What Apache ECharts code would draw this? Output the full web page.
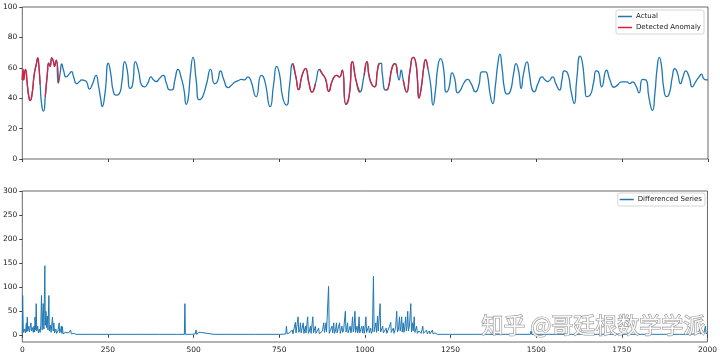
<!DOCTYPE html>
<html><head><meta charset="utf-8">
<script src="https://cdn.jsdelivr.net/npm/echarts@6/dist/echarts.min.js"></script>
<style>html,body{margin:0;padding:0;background:#fff}#c{width:720px;height:357px}</style>
</head><body><div id="c"></div>
<script>
// Top panel: actual series read at key points [x, value]
const actualSeries = [[0,52],[2,59],[4,52],[9,59],[15,48],[19,41],[23,38.5],[28,42],[35,56],[41,62.5],[45,66.5],[48,62],[52,49],[57,35],[62,31.5],[67,41],[73,56],[77,63],[81,61],[86,66.5],[91,64],[94,61],[99,65],[105,50],[110,56],[115,62.5],[120,58.5],[128,54],[137,56],[144,57.5],[149,54.5],[159,49.5],[167,51],[173,52],[183,51.5],[188,50.5],[196,46],[205,49.5],[215,55],[222,48.5],[229,39],[233,34.5],[241,43],[251,63],[258,56],[265,45],[273,42],[283,43],[290,50],[299,64],[306,58.5],[314,46.5],[321,48.5],[330,64],[339,58],[348,48.5],[357,47.5],[366,50],[375,54],[383,52],[391,51],[400,53],[411,55],[420,50],[430,45.5],[437,45.5],[445,52],[454,59],[464,53],[472,45],[478,36],[484,40],[490,55],[498,66.8],[507,52],[515,39],[521,39.5],[527,41.5],[538,50],[549,59],[561,49.5],[569,51],[578,58],[588,52],[600,47],[610,48.5],[619,50.5],[630,51.5],[639,52.4],[648,52],[658,54],[666,52],[682,41],[697,55],[706,52.4],[723,34.5],[733,49],[742,61],[750,56],[760,40],[771,35.5],[779,47.5],[789,62.8],[798,54],[806,45.7],[816,55],[826,59.5],[836,50],[845,44],[855,49.6],[867,59],[875,56],[884,53],[894,44.5],[905,52],[917,55],[925,54],[933,58.5],[944,36],[953,41],[963,64],[973,52],[984,44],[997,55],[1005,64],[1012,54],[1021,48.5],[1028,47.5],[1036,58.5],[1041,62.8],[1047,63],[1050,56],[1060,45.3],[1067,46.5],[1079,60.5],[1087,62.8],[1094,56],[1099,52],[1105,58.5],[1111,52],[1121,44],[1131,58.5],[1140,66.8],[1147,64],[1152,54],[1157,40],[1164,47.5],[1171,60.5],[1176,65.4],[1183,59.5],[1191,49],[1198,35.5],[1205,45],[1212,60.5],[1220,66],[1228,60.5],[1237,44],[1244,46.5],[1254,56.7],[1261,53],[1270,43.5],[1278,45.3],[1288,50],[1299,52.4],[1309,49.6],[1322,44.2],[1331,48],[1341,57.3],[1351,57.3],[1356,56],[1365,42],[1372,36.5],[1380,48.6],[1387,62.8],[1393,68.9],[1399,60.6],[1407,45.3],[1414,42.7],[1423,44.2],[1433,56.2],[1440,62.8],[1448,57.3],[1455,46.4],[1462,56.2],[1472,63.9],[1479,56.2],[1486,46.4],[1493,44.2],[1504,49.6],[1516,54],[1525,52],[1533,51],[1547,54],[1556,49.6],[1567,45.3],[1574,52],[1581,58],[1591,56.2],[1601,44.2],[1610,36.5],[1617,52],[1627,67.7],[1634,62.8],[1641,47.5],[1646,41],[1656,42],[1666,50],[1674,58],[1680,57.5],[1690,47.5],[1704,58.4],[1714,52],[1726,47.2],[1736,48.6],[1748,50.8],[1763,50.8],[1772,49.6],[1780,50.8],[1790,48],[1799,43.5],[1809,52.4],[1819,52],[1828,40],[1838,32],[1845,43],[1852,60.6],[1858,66.8],[1864,61.7],[1871,46.4],[1879,41],[1887,43],[1896,54],[1903,59.5],[1910,57.3],[1920,49.6],[1927,54],[1935,58],[1945,54],[1954,47.5],[1964,50.8],[1974,54],[1981,55.8],[1987,53],[1995,52],[2000,52]];

// x-ranges flagged as anomalies
const anomalyRanges = [[0,56],[64,105],[786,856],[862,984],[997,1041],[1056,1094],[1110,1186]];

// Bottom panel: differenced series [x, value]
const differencedSeries = [[0,2],[1,82],[3,5],[6,12],[9,4],[12,25],[13,6],[14.5,37],[16,8],[19,18],[21,6],[25,25],[27,8],[30,15],[32,5],[34,18],[36,6],[37,37],[39,10],[40.6,65],[42,8],[45,18],[47,4],[50,12],[52,5],[54,20],[56,82],[58,10],[61,65],[63,12],[65.8,144],[67,20],[69,49],[71,15],[73,39],[75,10],[77.5,82],[79,8],[82,20],[84,5],[88,37],[90,8],[92,25],[94,4],[98,12],[100,3],[104,8],[107.5,25],[109,4],[112,10],[114,18],[115.5,3],[117,17],[119,2],[125,5],[128,2],[135,4],[138,2],[141,10],[143,2],[150,3],[152,1],[157,1],[158,4],[160,1],[200,1],[250,1],[299,1],[300,4],[301,1],[350,1],[400,1],[450,1],[473,1],[474.6,65],[476,1],[494,1],[495,4],[497,1],[505,2],[507,10],[509,1],[515,5],[518,2],[521,5],[523,1],[560,1],[600,1],[650,1],[680,1],[681,4],[683,1],[720,1],[758,1],[759,4],[761,1],[769,2],[771,18],[773,2],[780,4],[785,2],[788,10],[790,2],[794,6],[797,26],[799,4],[802,8],[805,37.5],[807,5],[810,10],[812,25],[814,4],[818,8],[820,25],[822,3],[824,6],[826.5,18],[828,4],[831,6],[833,37.5],[835,3],[838,8],[841,18],[843,3],[846,6],[848,37.5],[850,4],[853,8],[855.5,18],[857,3],[862,6],[865,14],[867,2],[872,5],[876,8],[880,25],[882,5],[884,12],[886.5,25],[888,6],[891,4],[894,101],[896,3],[900,6],[904,18],[906,4],[909,25],[911,3],[914,8],[917,25],[919,4],[922,6],[926,25],[928,3],[930,8],[933,18],[935,5],[938,10],[943,49],[945,6],[947,12],[949.5,25],[951,4],[954,8],[957,18],[959,4],[961,10],[964,37.5],[966,6],[968,12],[971,49],[973,5],[975,8],[977,18],[979,4],[981,10],[983,37.5],[985,4],[988,8],[991,18],[993,4],[996,18],[998,3],[1000,10],[1003,37.5],[1005,5],[1008,8],[1011,18],[1013,4],[1017,14],[1019,3],[1022,8],[1025,122],[1027,6],[1030,10],[1032,25],[1034,5],[1037,39],[1039,8],[1042,12],[1044.5,65],[1046,6],[1049,10],[1052,18],[1054,4],[1058,8],[1062,14],[1064,3],[1068,6],[1072,18],[1075.5,26],[1077,5],[1080,8],[1083,14],[1085,3],[1088,10],[1090,18],[1093,49],[1095,6],[1098,12],[1101,37.5],[1103,8],[1105,18],[1107.5,37.5],[1109,6],[1112,25],[1114,5],[1116,12],[1119,37.5],[1121,8],[1123,18],[1125,49],[1127,8],[1130,18],[1134,65],[1136,6],[1139,25],[1141,8],[1144,37.5],[1146,5],[1148,10],[1151,18],[1153,3],[1158,8],[1162,12],[1164,3],[1166,8],[1169,18],[1171,3],[1176,6],[1180,10],[1182,2],[1188,8],[1190,2],[1197,10],[1199,2],[1205,4],[1209,4],[1211,1],[1229,1],[1230,3],[1231,1],[1247,1],[1248,4],[1250,1],[1290,1],[1329,1],[1330,3],[1331,1],[1380,1],[1429,1],[1430,3],[1431,1],[1483,1],[1485,8],[1487,1],[1529,1],[1530,3],[1531,1],[1560,1],[1599,1],[1600,3],[1601,1],[1640,1],[1679,1],[1680,4],[1681,1],[1720,1],[1759,1],[1760,3],[1761,1],[1800,1],[1839,1],[1840,4],[1841,1],[1880,1],[1919,1],[1920,4],[1921,1],[1950,1],[1975,3],[1977,15],[1979,2],[1990,5],[1994,18],[1996,3],[2000,2]];

const topYTicks = [0,20,40,60,80,100];
const bottomYTicks = [0,50,100,150,200,250,300];
const xTickStep = 250;

// Build anomaly overlay from the actual points inside flagged ranges
const anomalyData = [];
anomalyRanges.forEach(function (r) {
  actualSeries.forEach(function (p) { if (p[0] >= r[0] && p[0] <= r[1]) anomalyData.push(p); });
  anomalyData.push([r[1] + 0.5, null]);
});

const BLUE = '#1f77b4', RED = '#dc1f3c';
const lblStyle = { fontSize: 7.5, color: '#222', fontFamily: 'DejaVu Sans' };
const chart = echarts.init(document.getElementById('c'), null, { renderer: 'canvas' });
chart.setOption({
  animation: false,
  backgroundColor: '#fff',
  grid: [
    { left: 20, width: 688, top: 7, height: 152, show: true, borderColor: '#444', borderWidth: 0.8 },
    { left: 20, width: 688, top: 191, height: 151, show: true, borderColor: '#444', borderWidth: 0.8 }
  ],
  xAxis: [
    { gridIndex: 0, type: 'value', min: 0, max: 2000, interval: xTickStep,
      axisLine: { show: false }, splitLine: { show: false },
      axisTick: { show: true, length: 3, lineStyle: { color: '#444' } }, axisLabel: { show: false } },
    { gridIndex: 1, type: 'value', min: 0, max: 2000, interval: xTickStep,
      axisLine: { show: false }, splitLine: { show: false },
      axisTick: { show: true, length: 3, lineStyle: { color: '#444' } },
      axisLabel: Object.assign({ margin: 4, showMinLabel: true, showMaxLabel: true,
        formatter: function (v) { return String(v); } }, lblStyle) }
  ],
  yAxis: [
    { gridIndex: 0, type: 'value', min: 0, max: 100, interval: 20,
      axisLine: { show: false }, splitLine: { show: false },
      axisTick: { show: true, length: 3, lineStyle: { color: '#444' } },
      axisLabel: Object.assign({ margin: 5 }, lblStyle) },
    { gridIndex: 1, type: 'value', min: -15, max: 300,
      axisLine: { show: false }, splitLine: { show: false },
      axisTick: { show: true, length: 3, customValues: bottomYTicks, lineStyle: { color: '#444' } },
      axisLabel: Object.assign({ margin: 5, customValues: bottomYTicks }, lblStyle) }
  ],
  legend: [
    { data: [{ name: 'Actual' }, { name: 'Detected Anomaly' }], orient: 'vertical', right: 16, top: 10,
      icon: 'rect', itemWidth: 14, itemHeight: 1.5, itemGap: 4,
      borderColor: '#ccc', borderWidth: 0.8, borderRadius: 2, padding: [3, 3, 3, 2],
      textStyle: { fontSize: 7, color: '#222', fontFamily: 'DejaVu Sans', padding: [0, 0, 0, -1] } },
    { data: [{ name: 'Differenced Series' }], orient: 'vertical', right: 15, top: 193,
      icon: 'rect', itemWidth: 14, itemHeight: 1.5,
      borderColor: '#ccc', borderWidth: 0.8, borderRadius: 2, padding: [3, 3, 3, 2],
      textStyle: { fontSize: 7, color: '#222', fontFamily: 'DejaVu Sans', padding: [0, 0, 0, -1] } }
  ],
  series: [
    { name: 'Actual', type: 'line', xAxisIndex: 0, yAxisIndex: 0, data: actualSeries,
      showSymbol: false, smooth: 0.6, color: BLUE, lineStyle: { width: 1.3, color: BLUE } },
    { name: 'Detected Anomaly', type: 'line', xAxisIndex: 0, yAxisIndex: 0, data: anomalyData,
      showSymbol: false, smooth: 0.6, connectNulls: false, color: RED, lineStyle: { width: 1.3, color: RED } },
    { name: 'Differenced Series', type: 'line', xAxisIndex: 1, yAxisIndex: 1, data: differencedSeries,
      showSymbol: false, color: BLUE, lineStyle: { width: 1, color: BLUE } }
  ],
  graphic: [
    { type: 'text', left: 481, top: 313, z: 100, silent: true,
      style: { text: '知乎 @哥廷根数学学派', font: '22px "Noto Sans CJK SC"', fill: '#ffffff',
        stroke: '#8a8a8a', lineWidth: 1.2, opacity: 0.9 } }
  ]
});
</script>
</body></html>
